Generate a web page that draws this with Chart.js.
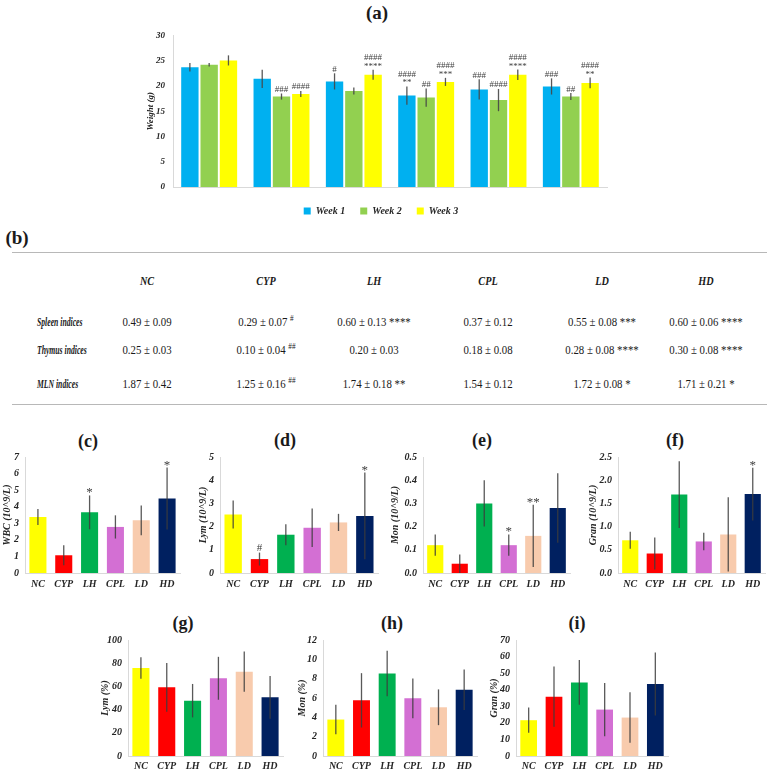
<!DOCTYPE html>
<html><head><meta charset="utf-8">
<script src="https://cdn.jsdelivr.net/npm/chart.js@4/dist/chart.umd.min.js"></script>
<style>
html,body{margin:0;padding:0;background:#fff;}
body{width:767px;height:773px;position:relative;overflow:hidden;font-family:"Liberation Serif","Times New Roman",serif;color:#1a1a1a;}
canvas{position:absolute;}
.pt{position:absolute;font-weight:bold;transform:translate(-50%,-50%);white-space:nowrap;line-height:1;}
.cell{position:absolute;white-space:nowrap;line-height:1;font-size:12px;transform:translate(-50%,-50%) scaleX(0.9);}
.hd{font-weight:bold;font-style:italic;transform:translate(-50%,-50%) scaleX(0.85);}
.rl{position:absolute;white-space:nowrap;line-height:1;font-size:12px;font-weight:bold;font-style:italic;transform-origin:left center;transform:translateY(-50%) scaleX(0.64);}
.cell sup{font-size:8px;vertical-align:5px;line-height:0;}
.hline{position:absolute;height:0;border-top:1.5px solid #b8b8b8;}
</style></head><body>
<script>
// ---------- (a) body weight ----------
const weekGroups = ['NC','CYP','LH','CPL','LD','HD'];
const week1 = [23.7, 21.4, 20.9, 18.1, 19.3, 19.9];
const week1Err = [0.85, 1.8, 1.6, 1.8, 2.0, 1.6];
const week2 = [24.2, 17.9, 19.0, 17.7, 17.2, 17.9];
const week2Err = [0.35, 0.6, 0.7, 1.8, 2.2, 0.7];
const week3 = [25.05, 18.4, 22.2, 20.8, 22.2, 20.6];
const week3Err = [1.0, 0.6, 1.0, 0.8, 1.05, 1.05];
const week1Marks = [[], [], ['#'], ['####','**'], ['###'], ['###']];
const week2Marks = [[], ['###'], [], ['##'], ['####'], ['##']];
const week3Marks = [[], ['####'], ['####','****'], ['####','***'], ['####','****'], ['####','**']];

// ---------- (b) organ indices table ----------
const tableGroups = ['NC','CYP','LH','CPL','LD','HD'];
const indexRows = ['Spleen indices','Thymus indices','MLN indices'];
const spleenMean = ['0.49','0.29','0.60','0.37','0.55','0.60'];
const spleenSd   = ['0.09','0.07','0.13','0.12','0.08','0.06'];
const spleenSig  = ['','#','****','','***','****'];
const thymusMean = ['0.25','0.10','0.20','0.18','0.28','0.30'];
const thymusSd   = ['0.03','0.04','0.03','0.08','0.08','0.08'];
const thymusSig  = ['','##','','','****','****'];
const mlnMean    = ['1.87','1.25','1.74','1.54','1.72','1.71'];
const mlnSd      = ['0.42','0.16','0.18','0.12','0.08','0.21'];
const mlnSig     = ['','##','**','','*','*'];

// ---------- (c)-(i) blood counts ----------
const bloodGroups = ['NC','CYP','LH','CPL','LD','HD'];
const wbc = [3.38, 1.07, 3.66, 2.78, 3.18, 4.49];
const wbcErr = [0.48, 0.6, 1.02, 0.7, 0.9, 1.87];
const wbcMarks = ['', '', '*', '', '', '*'];
const lymAbs = [2.52, 0.60, 1.65, 1.95, 2.18, 2.46];
const lymAbsErr = [0.6, 0.28, 0.45, 0.83, 0.37, 1.87];
const lymAbsMarks = ['', '#', '', '', '', '*'];
const monAbs = [0.12, 0.04, 0.30, 0.12, 0.16, 0.28];
const monAbsErr = [0.046, 0.04, 0.10, 0.046, 0.134, 0.15];
const monAbsMarks = ['', '', '', '*', '**', ''];
const granAbs = [0.705, 0.42, 1.69, 0.68, 0.83, 1.70];
const granAbsErr = [0.185, 0.345, 0.72, 0.19, 0.80, 0.57];
const granAbsMarks = ['', '', '', '', '', '*'];
const lymPct = [75.9, 59.2, 47.7, 67.0, 72.7, 50.6];
const lymPctErr = [9.2, 21.0, 14.4, 18.5, 17.4, 18.4];
const monPct = [3.77, 5.76, 8.54, 5.97, 5.04, 6.86];
const monPctErr = [1.52, 2.81, 2.35, 2.06, 1.85, 2.1];
const granPct = [21.6, 35.8, 44.4, 28.0, 23.2, 43.4];
const granPctErr = [7.6, 18.2, 13.5, 16.1, 15.2, 19.0];

const FONT = '"Liberation Serif","Times New Roman",serif';
const TXT = '#262626';
const weekColors = ['#00B0F0', '#92D050', '#FFFF00'];
const groupColors = ['#FFFF00', '#FF0000', '#00B050', '#D36FD3', '#F8CBAD', '#002060'];

const errPlugin = {
  id: 'err',
  afterDatasetsDraw(chart, args, o) {
    const ctx = chart.ctx, ys = chart.scales.y;
    chart.data.datasets.forEach((ds, di) => {
      const meta = chart.getDatasetMeta(di);
      meta.data.forEach((el, i) => {
        const v = ds.data[i], e = ds.errors[i];
        const top = ys.getPixelForValue(v + e), bot = ys.getPixelForValue(Math.max(v - e, 0));
        ctx.save();
        ctx.strokeStyle = o.color; ctx.lineWidth = o.width;
        ctx.beginPath(); ctx.moveTo(el.x, top); ctx.lineTo(el.x, bot); ctx.stroke();
        let m = ds.marks ? ds.marks[i] : null;
        if (m && m.length) {
          const lines = Array.isArray(m) ? m : [m];
          ctx.fillStyle = o.markColor; ctx.textAlign = 'center'; ctx.textBaseline = 'alphabetic';
          for (let k = lines.length - 1, j = 0; k >= 0; k--, j++) {
            const line = lines[k];
            const star = line.indexOf('*') >= 0;
            ctx.font = star ? o.starFont : o.hashFont;
            ctx.fillText(line, el.x, top - (star ? o.starOff : o.hashOff) - j * o.gap);
          }
        }
        ctx.restore();
      });
    });
  }
};

function makeCanvas(b) {
  const c = document.createElement('canvas');
  c.width = b.w; c.height = b.h;
  c.style.left = b.x + 'px'; c.style.top = b.y + 'px';
  c.style.width = b.w + 'px'; c.style.height = b.h + 'px';
  document.body.appendChild(c);
  return c;
}
function addTitle(text, x, y, size) {
  const d = document.createElement('div');
  d.className = 'pt'; d.textContent = text;
  d.style.left = x + 'px'; d.style.top = y + 'px'; d.style.fontSize = size + 'px';
  document.body.appendChild(d);
}
const bi = (s) => ({family: FONT, size: s, style: 'italic', weight: 'bold'});

// ---------- panel (a) ----------
addTitle('(a)', 377, 12, 19);
(function () {
  const box = {x: 130, y: 22, w: 490, h: 204};
  const area = {left: 173, right: 607, top: 35, bottom: 187};
  const padL = 25;
  const mk = (label, data, err, marks, col) => ({label, data, errors: err, marks, backgroundColor: col, borderWidth: 0, barPercentage: 0.9, categoryPercentage: 0.8});
  new Chart(makeCanvas(box), {
    type: 'bar',
    data: {labels: weekGroups, datasets: [
      mk('Week 1', week1, week1Err, week1Marks, weekColors[0]),
      mk('Week 2', week2, week2Err, week2Marks, weekColors[1]),
      mk('Week 3', week3, week3Err, week3Marks, weekColors[2])
    ]},
    options: {
      responsive: false, animation: false, devicePixelRatio: 1,
      layout: {padding: {left: padL, top: area.top - box.y, right: box.x + box.w - area.right, bottom: 0}},
      plugins: {
        legend: {position: 'bottom', labels: {boxWidth: 7, boxHeight: 7, padding: 15, color: TXT, font: bi(10)}},
        tooltip: {enabled: false},
        err: {color: 'rgba(70,70,70,0.9)', width: 1.3, markColor: '#404040', hashFont: '9px ' + FONT, starFont: '9px ' + FONT, hashOff: 1.5, starOff: 1, gap: 8}
      },
      scales: {
        x: {grid: {display: false, drawTicks: false}, border: {display: true, color: '#d9d9d9'},
            ticks: {padding: 6, color: TXT, font: bi(10), maxRotation: 0, minRotation: 0, autoSkip: false},
            afterFit: s => { s.height = 4; }},
        y: {min: 0, max: 30, grid: {display: false, drawTicks: false}, border: {display: true, color: '#d9d9d9'},
            ticks: {stepSize: 5, padding: 8, color: TXT, font: bi(9)},
            title: {display: true, text: 'Weight (g)', color: TXT, font: bi(9), padding: {top: -9.7, bottom: 0}},
            afterFit: s => { s.width = area.left - box.x - padL; }}
      }
    },
    plugins: [errPlugin]
  });
})();

// ---------- panel (b) table ----------
addTitle('(b)', 17, 237, 19);
(function () {
  const line = (y) => { const d = document.createElement('div'); d.className = 'hline'; d.style.left = '12px'; d.style.width = '755px'; d.style.top = y + 'px'; document.body.appendChild(d); };
  line(252); line(404);
  const colX = [147, 266, 374, 488, 602, 706];
  const rowY = [322, 350, 384];
  tableGroups.forEach((g, i) => {
    const d = document.createElement('div'); d.className = 'cell hd'; d.textContent = g;
    d.style.left = colX[i] + 'px'; d.style.top = '281px'; document.body.appendChild(d);
  });
  const rows = [[spleenMean, spleenSd, spleenSig], [thymusMean, thymusSd, thymusSig], [mlnMean, mlnSd, mlnSig]];
  indexRows.forEach((r, ri) => {
    const d = document.createElement('div'); d.className = 'rl'; d.textContent = r;
    d.style.left = '37px'; d.style.top = rowY[ri] + 'px'; document.body.appendChild(d);
    const [mean, sd, sig] = rows[ri];
    tableGroups.forEach((g, i) => {
      const c = document.createElement('div'); c.className = 'cell';
      let html = mean[i] + ' \u00b1 ' + sd[i];
      if (sig[i].indexOf('#') >= 0) html += ' <sup>' + sig[i] + '</sup>';
      else if (sig[i]) html += ' ' + sig[i];
      c.innerHTML = html;
      c.style.left = colX[i] + 'px'; c.style.top = rowY[ri] + 'px'; document.body.appendChild(c);
    });
  });
})();

// ---------- small panels ----------
function smallChart(cfg) {
  const box = cfg.box, area = cfg.area;
  new Chart(makeCanvas(box), {
    type: 'bar',
    data: {labels: bloodGroups, datasets: [{data: cfg.values, errors: cfg.errors, marks: cfg.marks,
      backgroundColor: groupColors, borderWidth: 0, barPercentage: 0.66, categoryPercentage: 1}]},
    options: {
      responsive: false, animation: false, devicePixelRatio: 1,
      layout: {padding: {left: 0, top: area.top - box.y, right: box.x + box.w - area.right, bottom: 0}},
      plugins: {
        legend: {display: false}, tooltip: {enabled: false},
        err: {color: 'rgba(60,60,60,0.85)', width: 1.3, markColor: '#404040', hashFont: '11px ' + FONT, starFont: '13px ' + FONT, hashOff: 2, starOff: -1, gap: 10}
      },
      scales: {
        x: {grid: {display: false, drawTicks: false}, border: {display: true, color: '#d9d9d9'},
            ticks: {padding: cfg.xpad, color: TXT, font: bi(10), maxRotation: 0, minRotation: 0, autoSkip: false},
            afterFit: s => { s.height = box.y + box.h - area.bottom; }},
        y: {min: 0, max: cfg.max, grid: {display: false, drawTicks: false}, border: {display: true, color: '#d9d9d9'},
            ticks: {stepSize: cfg.step, padding: 6, color: TXT, font: bi(10), callback: v => Number(v).toFixed(cfg.dec)},
            title: {display: true, text: cfg.title, color: TXT, font: bi(10), padding: {top: cfg.tpad, bottom: 0}},
            afterFit: s => { s.width = area.left - box.x; }}
      }
    },
    plugins: [errPlugin]
  });
}

addTitle('(c)', 88, 441, 18);
smallChart({box: {x: 0, y: 445, w: 182, h: 155}, area: {left: 25, right: 180, top: 457, bottom: 573}, xpad: 5, tpad: 1,
  values: wbc, errors: wbcErr, marks: wbcMarks, max: 7, step: 1, dec: 0, title: 'WBC (10^9/L)'});
addTitle('(d)', 285, 440, 18);
smallChart({box: {x: 195, y: 445, w: 186, h: 155}, area: {left: 220, right: 378, top: 456, bottom: 573}, xpad: 5, tpad: 2,
  values: lymAbs, errors: lymAbsErr, marks: lymAbsMarks, max: 5, step: 1, dec: 0, title: 'Lym (10^9/L)'});
addTitle('(e)', 482, 440, 18);
smallChart({box: {x: 387, y: 445, w: 186, h: 155}, area: {left: 423, right: 570, top: 456, bottom: 573}, xpad: 5, tpad: 2,
  values: monAbs, errors: monAbsErr, marks: monAbsMarks, max: 0.5, step: 0.1, dec: 1, title: 'Mon (10^9/L)'});
addTitle('(f)', 675, 440, 18);
smallChart({box: {x: 585, y: 445, w: 182, h: 155}, area: {left: 618, right: 765, top: 456, bottom: 573}, xpad: 5, tpad: 2,
  values: granAbs, errors: granAbsErr, marks: granAbsMarks, max: 2.5, step: 0.5, dec: 1, title: 'Gran (10^9/L)'});
addTitle('(g)', 183, 623, 18);
smallChart({box: {x: 97, y: 628, w: 190, h: 145}, area: {left: 128, right: 283, top: 640, bottom: 756}, xpad: 4, tpad: 2,
  values: lymPct, errors: lymPctErr, marks: null, max: 100, step: 20, dec: 0, title: 'Lym (%)'});
addTitle('(h)', 392, 623, 18);
smallChart({box: {x: 294, y: 628, w: 186, h: 145}, area: {left: 323, right: 477, top: 639, bottom: 756}, xpad: 4, tpad: 2,
  values: monPct, errors: monPctErr, marks: null, max: 12, step: 2, dec: 0, title: 'Mon (%)'});
addTitle('(i)', 577, 623, 18);
smallChart({box: {x: 486, y: 628, w: 186, h: 145}, area: {left: 516, right: 668, top: 639, bottom: 756}, xpad: 4, tpad: 2,
  values: granPct, errors: granPctErr, marks: null, max: 70, step: 10, dec: 0, title: 'Gran (%)'});
</script>
</body></html>
